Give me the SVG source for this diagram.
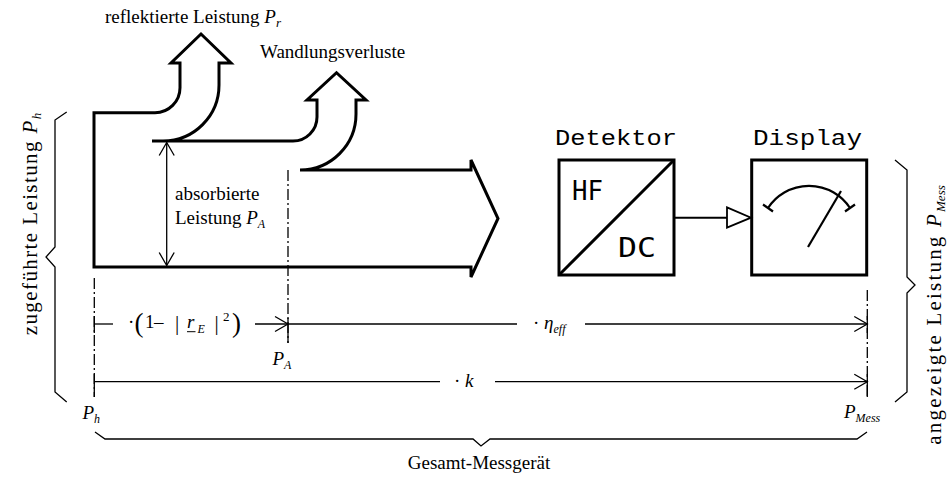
<svg xmlns="http://www.w3.org/2000/svg" width="948" height="477" viewBox="0 0 948 477">
<style>
.thick{fill:none;stroke:#000;stroke-width:3;stroke-linejoin:miter}
.thin{fill:none;stroke:#000;stroke-width:1.3}
.dd{fill:none;stroke:#000;stroke-width:1.3;stroke-dasharray:11 3 2 3}
.serif{font-family:"Liberation Serif","Times New Roman",serif;font-size:19px;fill:#000}
.it{font-style:italic}
.mono{font-family:"Liberation Mono","DejaVu Sans Mono",monospace;font-size:22px;fill:#000}
.monob{font-family:"DejaVu Sans Mono","Liberation Mono",monospace;font-size:27px;fill:#000}
</style>
<defs>
<marker id="va" markerUnits="userSpaceOnUse" markerWidth="16" markerHeight="18" refX="13" refY="7.5" orient="auto-start-reverse" overflow="visible">
<path d="M0,0 L13,7.5 L0,15" fill="none" stroke="#000" stroke-width="1.3"/>
</marker>
</defs>

<g id="power-flow">
<path class="thick" d="M152,141 L293,141 A24,24 0 0 0 317,117 L317,100 L307,100 L336.5,72.7 L366,100 L356,100 L356,114 A56,56 0 0 1 300,170 L471,170 L471,160 L498,218.5 L471,277 L471,267 L94,267 L94,112.7 L155,112.7 A25,25 0 0 0 180,87.7 L180,63 L171,63 L201,34 L231,63 L219,63 L219,85 A56,56 0 0 1 163,141"/>
<text class="serif" x="105" y="23">reflektierte Leistung <tspan class="it">P</tspan><tspan class="it" style="font-size:13px" dy="4">r</tspan></text>
<text class="serif" x="260" y="58">Wandlungsverluste</text>
<line class="thin" x1="166.7" y1="142.5" x2="166.7" y2="265.5" marker-start="url(#va)" marker-end="url(#va)"/>
<text class="serif" x="175" y="200">absorbierte</text>
<text class="serif" x="175" y="223.5">Leistung <tspan class="it">P</tspan><tspan class="it" style="font-size:12px" dy="4">A</tspan></text>
</g>

<g id="detektor">
<text class="mono" x="555" y="145" textLength="122" lengthAdjust="spacingAndGlyphs">Detektor</text>
<rect class="thick" x="559" y="160" width="115" height="115"/>
<line class="thick" x1="559" y1="275" x2="674" y2="160" stroke-width="2"/>
<text class="monob" x="572" y="200" textLength="31" lengthAdjust="spacingAndGlyphs">HF</text>
<text class="monob" x="618" y="257" textLength="38" lengthAdjust="spacingAndGlyphs">DC</text>
</g>

<g id="display">
<text class="mono" x="753" y="145" textLength="109" lengthAdjust="spacingAndGlyphs">Display</text>
<rect class="thick" x="751.7" y="160" width="115" height="115"/>
<path d="M768,208 A49,49 0 0 1 850,208" fill="none" stroke="#000" stroke-width="2.2"/>
<line x1="763" y1="204.5" x2="773" y2="211.5" stroke="#000" stroke-width="2.2"/>
<line x1="845" y1="211.5" x2="855" y2="204.5" stroke="#000" stroke-width="2.2"/>
<line x1="808" y1="247" x2="841" y2="191" stroke="#000" stroke-width="2.2"/>
</g>

<g id="connectors">
<line x1="674" y1="217.7" x2="727" y2="217.7" stroke="#000" stroke-width="2"/>
<polygon points="727,207.3 751,217.7 727,227.7" fill="#fff" stroke="#000" stroke-width="1.8"/>
</g>

<g id="dimensions">
<line class="dd" x1="94.3" y1="278" x2="94.3" y2="397"/>
<line class="thin" x1="94.3" y1="316" x2="94.3" y2="333"/>
<line class="thin" x1="94.3" y1="374" x2="94.3" y2="397"/>
<line class="dd" x1="288" y1="170" x2="288" y2="343"/>
<line class="thin" x1="288" y1="318" x2="288" y2="343"/>
<line class="dd" x1="867.3" y1="290" x2="867.3" y2="397"/>
<line class="thin" x1="867.3" y1="316" x2="867.3" y2="333"/>
<line class="thin" x1="867.3" y1="374" x2="867.3" y2="397"/>

<line class="thin" x1="94.3" y1="324" x2="113" y2="324"/>
<line class="thin" x1="255" y1="324" x2="288" y2="324" marker-end="url(#va)"/>
<text class="serif"><tspan x="128" y="328">·</tspan><tspan x="134.5" y="332" style="font-size:27px">(</tspan><tspan x="145" y="328">1</tspan><tspan x="154" y="328">–</tspan><tspan x="175" y="330" style="font-size:21px">|</tspan><tspan x="187" y="328" class="it">r</tspan><tspan x="197.5" y="333" class="it" style="font-size:12px">E</tspan><tspan x="214.5" y="330" style="font-size:21px">|</tspan><tspan x="223" y="321" style="font-size:13px">2</tspan><tspan x="232" y="332" style="font-size:27px">)</tspan></text>
<line x1="187" y1="331.7" x2="195.5" y2="331.7" stroke="#000" stroke-width="1"/>

<line class="thin" x1="288" y1="324" x2="517" y2="324"/>
<line class="thin" x1="585" y1="324" x2="867.3" y2="324" marker-end="url(#va)"/>
<text class="serif" x="533" y="329">· <tspan class="it">η</tspan><tspan class="it" style="font-size:12px" dy="4">eff</tspan></text>

<line class="thin" x1="94.3" y1="381.7" x2="440" y2="381.7"/>
<line class="thin" x1="495" y1="381.7" x2="867.3" y2="381.7" marker-end="url(#va)"/>
<text class="serif" x="454" y="387">· <tspan class="it">k</tspan></text>

<text class="serif" x="272.5" y="365"><tspan class="it">P</tspan><tspan class="it" style="font-size:12px" dy="4">A</tspan></text>
<text class="serif" x="82.5" y="419"><tspan class="it">P</tspan><tspan class="it" style="font-size:12px" dy="4">h</tspan></text>
<text class="serif" x="844" y="418"><tspan class="it">P</tspan><tspan class="it" style="font-size:12px" dy="4">Mess</tspan></text>

<path class="thin" d="M66.7,112 L55,120 L55,247 L46,257 L55,267 L55,392 L66.7,402"/>
<path class="thin" d="M895,160 L907,170 L907,277 L915,285 L907,293 L907,392 L895,402"/>
<path class="thin" d="M95,432 L105,439 L473,439 L481,446 L490,439 L857,439 L867,432"/>

<text class="serif" transform="translate(37,224) rotate(-90)" x="0" y="0" text-anchor="middle" style="font-size:21px;letter-spacing:1.4px">zugeführte Leistung <tspan class="it">P</tspan><tspan class="it" style="font-size:13px;letter-spacing:0" dy="4">h</tspan></text>
<text class="serif" transform="translate(941,315) rotate(-90)" x="0" y="0" text-anchor="middle" style="font-size:21px;letter-spacing:2.2px">angezeigte Leistung  <tspan class="it">P</tspan><tspan class="it" style="font-size:13px;letter-spacing:0" dy="4">Mess</tspan></text>
<text class="serif" x="479" y="469" text-anchor="middle">Gesamt-Messgerät</text>
</g>
</svg>
